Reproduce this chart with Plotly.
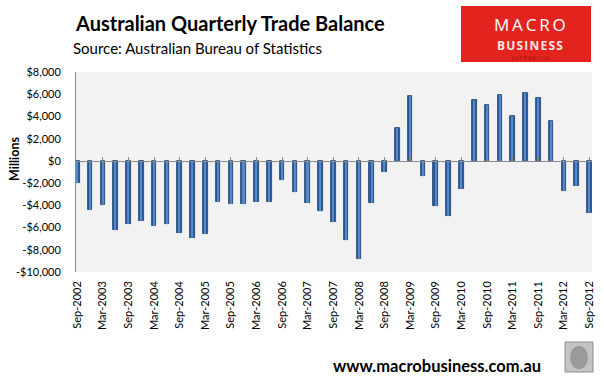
import plotly.graph_objects as go

# ---------------- data ----------------
quarters = [
    "Sep-2002", "Dec-2002", "Mar-2003", "Jun-2003", "Sep-2003", "Dec-2003",
    "Mar-2004", "Jun-2004", "Sep-2004", "Dec-2004", "Mar-2005", "Jun-2005",
    "Sep-2005", "Dec-2005", "Mar-2006", "Jun-2006", "Sep-2006", "Dec-2006",
    "Mar-2007", "Jun-2007", "Sep-2007", "Dec-2007", "Mar-2008", "Jun-2008",
    "Sep-2008", "Dec-2008", "Mar-2009", "Jun-2009", "Sep-2009", "Dec-2009",
    "Mar-2010", "Jun-2010", "Sep-2010", "Dec-2010", "Mar-2011", "Jun-2011",
    "Sep-2011", "Dec-2011", "Mar-2012", "Jun-2012", "Sep-2012",
]
trade_balance = [
    -2000, -4450, -4000, -6250, -5700, -5450,
    -5850, -5650, -6450, -6900, -6600, -3700,
    -3900, -3900, -3700, -3700, -1700, -2800,
    -3800, -4500, -5500, -7100, -8800, -3800,
    -1000, 3000, 5800, -1400, -4100, -5000,
    -2500, 5500, 5000, 5900, 4000, 6100,
    5700, 3600, -2700, -2250, -4700,
]
x_tick_labels = quarters[::2]
y_tick_values = [8000, 6000, 4000, 2000, 0, -2000, -4000, -6000, -8000, -10000]
y_tick_labels = ["$8,000", "$6,000", "$4,000", "$2,000", "$0", "-$2,000",
                 "-$4,000", "-$6,000", "-$8,000", "-$10,000"]

# ---------------- layout helpers ----------------
W, H = 604, 380
L, R, T, B = 76, 592, 72, 272


def px(x):
    return (x - L) / (R - L)


def py(y):
    return (B - y) / (B - T)


FONT = "Lato"

fig = go.Figure()
fig.add_trace(go.Bar(
    x=quarters, y=trade_balance, width=0.36,
    marker=dict(color="#2B5B9C", line=dict(color="#1B3D6B", width=0.8)),
    hoverinfo="x+y", showlegend=False,
))
fig.add_trace(go.Bar(
    x=quarters, y=trade_balance, width=0.12,
    marker=dict(color="#5489C9", line=dict(width=0)),
    hoverinfo="skip", showlegend=False,
))

fig.update_layout(
    width=W, height=H,
    margin=dict(l=L, r=W - R, t=T, b=H - B, pad=0, autoexpand=False),
    paper_bgcolor="white", plot_bgcolor="#F2F2F2",
    barmode="overlay",
    font=dict(family=FONT, size=11, color="#000000"),
    xaxis=dict(
        type="category", categoryorder="array", categoryarray=quarters,
        range=[-0.1, 40.2], tickmode="array", tickvals=x_tick_labels,
        ticktext=x_tick_labels, tickangle=-90, ticks="",
        showline=False, showgrid=False, zeroline=False,
        ticklabelstandoff=6, tickfont=dict(family=FONT, size=11),
    ),
    xaxis2=dict(
        overlaying="x", matches="x", type="category",
        categoryorder="array", categoryarray=quarters,
        anchor="free", position=10000 / 18000, side="bottom",
        showline=True, linecolor="#8A8A8A", linewidth=1,
        ticks="inside", ticklen=4, tickcolor="#8A8A8A", tickwidth=1,
        tickmode="array", tickvals=x_tick_labels[1:],
        showticklabels=False, showgrid=False, zeroline=False,
    ),
    yaxis=dict(
        range=[-10000, 8000], tickmode="array", tickvals=y_tick_values,
        ticktext=y_tick_labels, showgrid=False, zeroline=False,
        showline=True, linecolor="#8A8A8A", linewidth=1, ticks="",
        ticklabelstandoff=12, tickfont=dict(family=FONT, size=11),
    ),
    bargap=0,
)

fig.add_trace(go.Scatter(x=[quarters[0]], y=[0], xaxis="x2", mode="none",
                         showlegend=False, hoverinfo="skip"))

shapes = []
# logo box
shapes.append(dict(type="rect", xref="paper", yref="paper",
                   x0=px(461), x1=px(591), y0=py(62), y1=py(6),
                   fillcolor="#E3231E", line=dict(width=0), layer="above"))
# wolf image placeholder
shapes.append(dict(type="rect", xref="paper", yref="paper",
                   x0=px(565), x1=px(593), y0=py(372), y1=py(342),
                   fillcolor="#C4C4C4", line=dict(color="#8C8C8C", width=1)))
shapes.append(dict(type="circle", xref="paper", yref="paper",
                   x0=px(570), x1=px(588), y0=py(369), y1=py(346),
                   fillcolor="#9A9A9A", line=dict(width=0)))
fig.update_layout(shapes=shapes)

ann = [
    dict(text="<b>Australian Quarterly Trade Balance</b>", x=px(74), y=py(23),
         xanchor="left", yanchor="middle",
         font=dict(family=FONT, size=20, color="#000000")),
    dict(text="Source: Australian Bureau of Statistics", x=px(72), y=py(48),
         xanchor="left", yanchor="middle",
         font=dict(family=FONT, size=15, color="#000000")),
    dict(text="M\u2009A\u2009C\u2009R\u2009O", x=px(530), y=py(24.5),
         xanchor="center", yanchor="middle",
         font=dict(family="Open Sans", size=17, color="#FFFFFF")),
    dict(text="<b>B\u200aU\u200aS\u200aI\u200aN\u200aE\u200aS\u200aS</b>",
         x=px(530), y=py(45.5), xanchor="center", yanchor="middle",
         font=dict(family="Open Sans", size=12, color="#FBE3E3")),
    dict(text="S\u2009U\u2009P\u2009E\u2009R\u2009B\u2009L\u2009O\u2009G",
         x=px(530), y=py(58), xanchor="center", yanchor="middle",
         font=dict(family="Open Sans", size=5.5, color="#9E1512")),
    dict(text="<b>Millions</b>", x=px(14), y=py(159), textangle=-90,
         xanchor="center", yanchor="middle",
         font=dict(family=FONT, size=12.5, color="#000000")),
    dict(text="<b>www.macrobusiness.com.au</b>", x=px(437), y=py(366),
         xanchor="center", yanchor="middle",
         font=dict(family=FONT, size=16.5, color="#000000")),
]
for a in ann:
    a.update(xref="paper", yref="paper", showarrow=False, borderpad=0)
fig.update_layout(annotations=ann)

fig.write_html("out.html", config={"displayModeBar": False},
               post_script="document.body.style.margin='0px';"
                           "document.body.style.padding='0px';")
